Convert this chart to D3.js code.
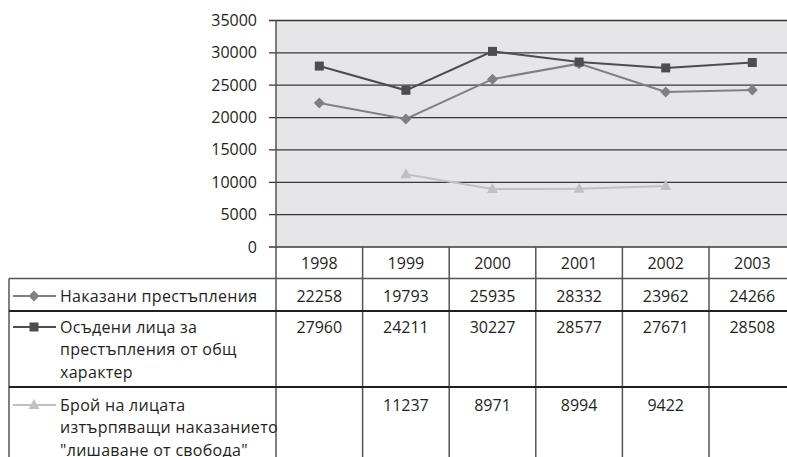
<!DOCTYPE html>
<html lang="bg">
<head>
  <meta charset="UTF-8">
  <title>Наказани престъпления</title>
  <script src="https://d3js.org/d3.v7.min.js"></script>
  <style>
    body { margin: 0; padding: 0; background: #fff; }
    text { font-family: "Open Sans", "Noto Sans", sans-serif; font-size: 16px; fill: #231f20; }
    .lbl { letter-spacing: 0.3px; }
  </style>
</head>
<body>
  <div id="chart"></div>
  <script>
    // data
    const years = ['1998', '1999', '2000', '2001', '2002', '2003'];
    const yTicks = [0, 5000, 10000, 15000, 20000, 25000, 30000, 35000];
    const punished = [22258, 19793, 25935, 28332, 23962, 24266];
    const convicted = [27960, 24211, 30227, 28577, 27671, 28508];
    const imprisoned = [null, 11237, 8971, 8994, 9422, null];

    const series = [
      { label: ['Наказани престъпления'], values: punished, color: '#808082', marker: 'diamond', width: 2 },
      { label: ['Осъдени лица за', 'престъпления от общ', 'характер'], values: convicted, color: '#4d4d4f', marker: 'square', width: 2 },
      { label: ['Брой на лицата', 'изтърпяващи наказанието', '"лишаване от свобода"'], values: imprisoned, color: '#c0c0c2', marker: 'triangle', width: 2 }
    ];

    const width = 787, height = 457;
    const plotLeft = 276, plotTop = 20.5, plotBottom = 247;
    const colW = 86.6;
    const rowTops = [247, 278.5, 311, 387];   // category row, then one row per series
    const rowPad = [17.5, 16, 18];

    const svg = d3.select('#chart').append('svg')
      .attr('width', width).attr('height', height);

    const x = d3.scaleBand().domain(years).range([plotLeft, plotLeft + colW * years.length]);
    const y = d3.scaleLinear().domain([0, 35000]).range([plotBottom, plotTop]);

    // plot background
    svg.append('rect')
      .attr('x', plotLeft).attr('y', plotTop)
      .attr('width', width - plotLeft).attr('height', plotBottom - plotTop)
      .attr('fill', '#e6e6e8');

    // gridlines
    svg.append('g').selectAll('line')
      .data(yTicks)
      .enter().append('line')
      .attr('x1', plotLeft - 7).attr('x2', width)
      .attr('y1', d => y(d)).attr('y2', d => y(d))
      .attr('stroke', '#38383a')
      .attr('stroke-width', 1.3);

    // y axis labels
    svg.append('g').selectAll('text')
      .data(yTicks)
      .enter().append('text')
      .attr('x', 257).attr('y', d => y(d) + 5.5)
      .attr('text-anchor', 'end')
      .text(d => d);

    // table lines
    const tableBottom = height;
    svg.append('line')
      .attr('x1', plotLeft).attr('x2', plotLeft).attr('y1', plotTop).attr('y2', tableBottom)
      .attr('stroke', '#555557').attr('stroke-width', 1.5);
    svg.append('g').selectAll('line')
      .data(years.slice(1))
      .enter().append('line')
      .attr('x1', d => x(d)).attr('x2', d => x(d))
      .attr('y1', plotBottom).attr('y2', tableBottom)
      .attr('stroke', '#555557').attr('stroke-width', 1.5);
    svg.append('line')
      .attr('x1', 9).attr('x2', 9).attr('y1', rowTops[1]).attr('y2', tableBottom)
      .attr('stroke', '#555557').attr('stroke-width', 1.5);
    svg.append('line')
      .attr('x1', 9).attr('x2', width).attr('y1', rowTops[1]).attr('y2', rowTops[1])
      .attr('stroke', '#555557').attr('stroke-width', 1.5);
    svg.append('g').selectAll('line')
      .data(rowTops.slice(2))
      .enter().append('line')
      .attr('x1', 9).attr('x2', width)
      .attr('y1', d => d).attr('y2', d => d)
      .attr('stroke', '#231f20').attr('stroke-width', 2.2);

    // category labels
    svg.append('g').selectAll('text')
      .data(years)
      .enter().append('text')
      .attr('x', d => x(d) + x.bandwidth() / 2)
      .attr('y', 269)
      .attr('text-anchor', 'middle')
      .text(d => d);

    function marker(g, type, color) {
      if (type === 'square') {
        g.append('rect').attr('x', -4.5).attr('y', -4.5).attr('width', 9).attr('height', 9).attr('fill', color);
      } else if (type === 'diamond') {
        g.append('path').attr('d', 'M0,-5.5L5.5,0L0,5.5L-5.5,0Z').attr('fill', color);
      } else {
        g.append('path').attr('d', 'M0,-6L5.5,4L-5.5,4Z').attr('fill', color);
      }
    }

    const line = d3.line()
      .defined(d => d != null)
      .x((d, i) => x(years[i]) + x.bandwidth() / 2)
      .y(d => y(d));

    series.forEach((s, k) => {
      // line + markers
      svg.append('path')
        .datum(s.values)
        .attr('d', line)
        .attr('fill', 'none')
        .attr('stroke', s.color)
        .attr('stroke-width', s.width);

      s.values.forEach((v, i) => {
        if (v == null) return;
        const g = svg.append('g')
          .attr('transform', `translate(${x(years[i]) + x.bandwidth() / 2},${y(v)})`);
        marker(g, s.marker, s.color);
      });

      // table row
      const lineY = rowTops[k + 1] + rowPad[k];
      svg.append('line')
        .attr('x1', 13).attr('x2', 56)
        .attr('y1', lineY).attr('y2', lineY)
        .attr('stroke', s.color).attr('stroke-width', 2);
      marker(svg.append('g').attr('transform', `translate(34,${lineY})`), s.marker, s.color);

      s.label.forEach((t, j) => {
        svg.append('text')
          .attr('class', 'lbl')
          .attr('x', 60).attr('y', lineY + 5.5 + j * 22.5)
          .text(t);
      });

      s.values.forEach((v, i) => {
        if (v == null) return;
        svg.append('text')
          .attr('x', x(years[i]) + x.bandwidth() / 2)
          .attr('y', lineY + 5.5)
          .attr('text-anchor', 'middle')
          .text(v);
      });
    });
  </script>
</body>
</html>
